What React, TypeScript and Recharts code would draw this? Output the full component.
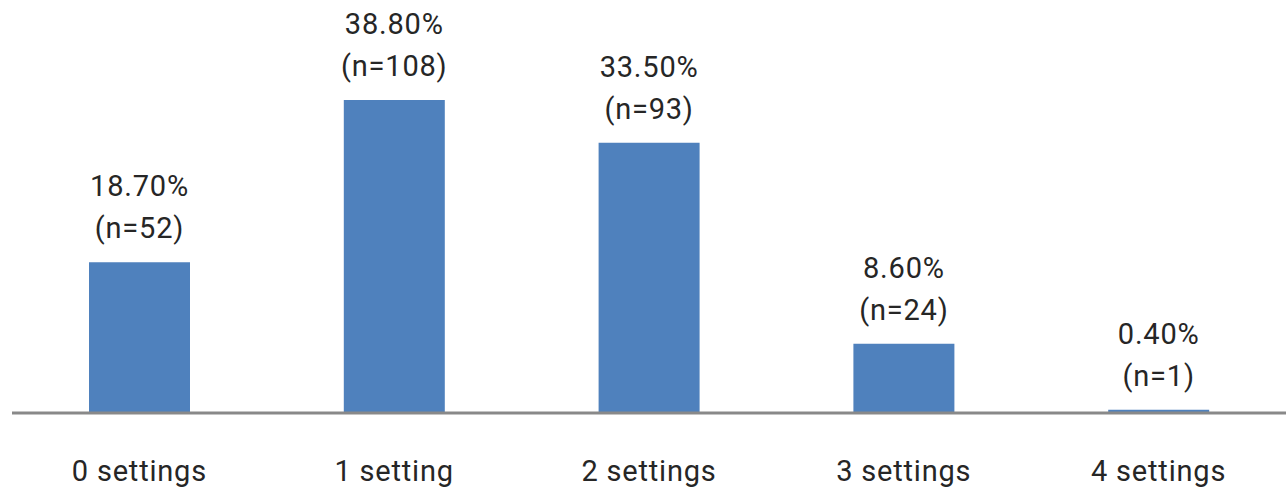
import { BarChart, Bar, XAxis, YAxis, LabelList } from 'recharts';

const categories = ['0 settings', '1 setting', '2 settings', '3 settings', '4 settings'];
const shares = [18.7, 38.8, 33.5, 8.6, 0.4];
const pctLabels = ['18.70%', '38.80%', '33.50%', '8.60%', '0.40%'];
const counts = [52, 108, 93, 24, 1];

const FONT = 'Roboto, "Noto Sans", sans-serif';
const TEXT = '#262626';
const FS = 29;
const LS = 0.8;

const data = categories.map((c, i) => ({
  category: c,
  share: shares[i],
  pct: pctLabels[i],
  n: counts[i],
}));

// two-line label above each bar: percentage, then (n=..)
function renderLabel(props: any) {
  const { x, y, width, index } = props as { x: number; y: number; width: number; index: number };
  const cx = x + width / 2;
  const d = data[index];
  const common = {
    x: cx,
    textAnchor: 'middle' as const,
    dominantBaseline: 'central' as const,
    fill: TEXT,
    fontSize: FS,
    fontFamily: FONT,
    letterSpacing: LS,
  };
  return (
    <g>
      <text {...common} y={y - 76}>
        {d.pct}
      </text>
      <text {...common} y={y - 34}>
        {`(n=${d.n})`}
      </text>
    </g>
  );
}

export default function App() {
  return (
    <div style={{ position: 'absolute', left: 0, top: 0, width: 1286, height: 493, background: '#fff' }}>
      <BarChart
        width={1286}
        height={493}
        data={data}
        margin={{ top: 50, right: 0, bottom: 0, left: 12 }}
      >
        <XAxis
          dataKey="category"
          height={80}
          tickLine={false}
          axisLine={{ stroke: '#898989', strokeWidth: 3 }}
          tick={{ fill: TEXT, fontSize: FS, fontFamily: FONT, letterSpacing: LS }}
          tickMargin={41}
          interval={0}
        />
        <YAxis hide domain={[0, 45]} />
        <Bar dataKey="share" fill="#4F81BD" barSize={101} isAnimationActive={false}>
          <LabelList dataKey="share" content={renderLabel} />
        </Bar>
      </BarChart>
    </div>
  );
}
